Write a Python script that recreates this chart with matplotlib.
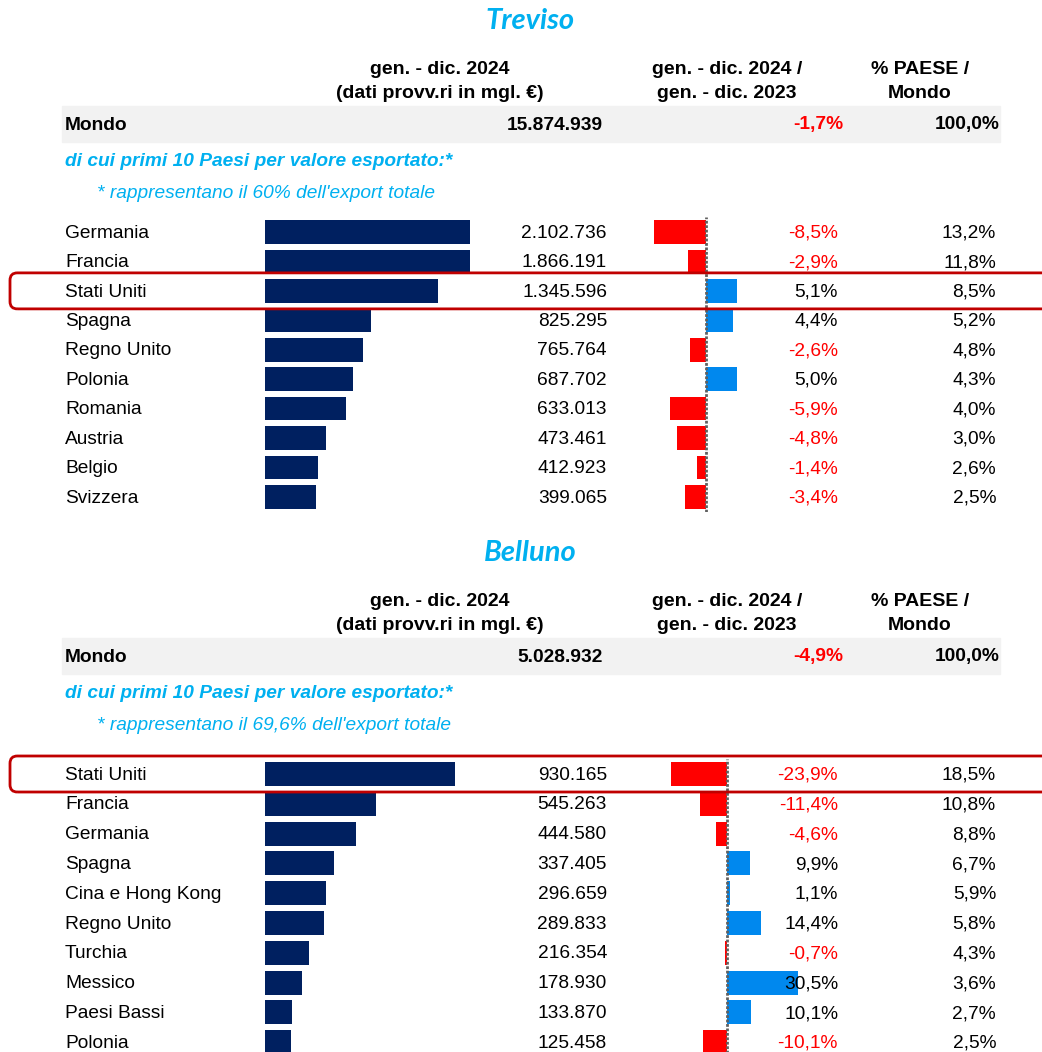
import matplotlib
matplotlib.use("Agg")
import matplotlib.pyplot as plt
from matplotlib.patches import FancyBboxPatch, Rectangle

# data
tv_countries = ["Germania", "Francia", "Stati Uniti", "Spagna", "Regno Unito",
                "Polonia", "Romania", "Austria", "Belgio", "Svizzera"]
tv_values = [2102736, 1866191, 1345596, 825295, 765764, 687702, 633013, 473461, 412923, 399065]
tv_change = [-8.5, -2.9, 5.1, 4.4, -2.6, 5.0, -5.9, -4.8, -1.4, -3.4]
tv_share = [13.2, 11.8, 8.5, 5.2, 4.8, 4.3, 4.0, 3.0, 2.6, 2.5]
tv_world = 15874939
tv_world_change = -1.7

bl_countries = ["Stati Uniti", "Francia", "Germania", "Spagna", "Cina e Hong Kong",
                "Regno Unito", "Turchia", "Messico", "Paesi Bassi", "Polonia"]
bl_values = [930165, 545263, 444580, 337405, 296659, 289833, 216354, 178930, 133870, 125458]
bl_change = [-23.9, -11.4, -4.6, 9.9, 1.1, 14.4, -0.7, 30.5, 10.1, -10.1]
bl_share = [18.5, 10.8, 8.8, 6.7, 5.9, 5.8, 4.3, 3.6, 2.7, 2.5]
bl_world = 5028932
bl_world_change = -4.9

W, H = 1042, 1052
NAVY = "#002060"
RED = "#FF0000"
BLUE = "#0088EE"
CYAN = "#00B0F0"
BOXRED = "#C00000"
FONT = "Liberation Sans"
FS = 13.8

fig = plt.figure(figsize=(W / 100, H / 100), dpi=100)


def fmt_int(v):
    return f"{v:,}".replace(",", ".")


def fmt_pct(v):
    return f"{v:.1f}%".replace(".", ",")


def px_axes(x0, y0, x1, y1):
    return fig.add_axes([x0 / W, 1 - y1 / H, (x1 - x0) / W, (y1 - y0) / H])


def panel(title, top, row0, step, countries, values, change, share, world, world_change,
          vmax, chg_zero, chg_scale, chg_lim, pct_note, box_row):
    # title and header
    fig.text(530 / W, 1 - (top + 21) / H, title, ha="center", va="center",
             fontsize=21, fontweight="bold", style="italic", color=CYAN, family="Lato")
    hdr = dict(ha="center", va="center", fontsize=14, fontweight="bold", family=FONT)
    fig.text(440 / W, 1 - (top + 70) / H, "gen. - dic. 2024", **hdr)
    fig.text(440 / W, 1 - (top + 94) / H, "(dati provv.ri in mgl. €)", **hdr)
    fig.text(727 / W, 1 - (top + 70) / H, "gen. - dic. 2024 /", **hdr)
    fig.text(727 / W, 1 - (top + 94) / H, "gen. - dic. 2023", **hdr)
    fig.text(920 / W, 1 - (top + 70) / H, "% PAESE /", **hdr)
    fig.text(920 / W, 1 - (top + 94) / H, "Mondo", **hdr)

    # Mondo row
    fig.patches.append(Rectangle((62 / W, 1 - (top + 142) / H), 938 / W, 36 / H,
                                 transform=fig.transFigure, color="#F2F2F2", zorder=0))
    ym = 1 - (top + 125) / H
    bold = dict(va="center", fontsize=FS, fontweight="bold", family=FONT)
    fig.text(65 / W, ym, "Mondo", ha="left", **bold)
    fig.text(603 / W, ym, fmt_int(world), ha="right", **bold)
    fig.text(843 / W, ym, fmt_pct(world_change), ha="right",
             color=RED if world_change < 0 else "black", **bold)
    fig.text(1000 / W, ym, "100,0%", ha="right", **bold)

    fig.text(65 / W, 1 - (top + 161) / H, "di cui primi 10 Paesi per valore esportato:*",
             ha="left", va="center", fontsize=FS, fontweight="bold", style="italic",
             color=CYAN, family=FONT)
    fig.text(97 / W, 1 - (top + 194) / H, pct_note, ha="left", va="center",
             fontsize=FS, style="italic", color=CYAN, family=FONT)

    y_top = row0 - 0.5 * step
    y_bot = row0 + 9.5 * step
    rows = list(range(len(countries)))

    # value bars
    ax_v = px_axes(265, y_top, 470, y_bot)
    ax_v.barh(rows, values, height=0.8, color=NAVY)
    ax_v.set_xlim(0, vmax)
    ax_v.set_ylim(9.5, -0.5)
    ax_v.axis("off")

    # change bars
    lo, hi = chg_lim
    ax_c = px_axes(chg_zero + lo * chg_scale, y_top, chg_zero + hi * chg_scale, y_bot)
    ax_c.barh(rows, change, height=0.8,
              color=[RED if c < 0 else BLUE for c in change])
    ax_c.axvline(0, color="#606060", lw=2, ls=(0, (1, 0.6)), zorder=3)
    ax_c.set_xlim(lo, hi)
    ax_c.set_ylim(9.5, -0.5)
    ax_c.axis("off")

    # table text
    ax_t = px_axes(0, y_top, W, y_bot)
    ax_t.set_xlim(0, W)
    ax_t.set_ylim(9.5, -0.5)
    ax_t.axis("off")
    ax_t.patch.set_alpha(0)
    txt = dict(va="center", fontsize=FS, family=FONT)
    for i in rows:
        yy = i + 0.04
        ax_t.text(65, yy, countries[i], ha="left", **txt)
        ax_t.text(607, yy, fmt_int(values[i]), ha="right", **txt)
        ax_t.text(838, yy, fmt_pct(change[i]), ha="right",
                  color=RED if change[i] < 0 else "black", **txt)
        ax_t.text(996, yy, fmt_pct(share[i]), ha="right", **txt)

    # highlight box
    yc = row0 + box_row * step
    fig.patches.append(FancyBboxPatch((10 / W, 1 - (yc + 18) / H), 1040 / W, 36 / H,
                                      boxstyle="round,pad=0,rounding_size=0.007",
                                      transform=fig.transFigure, fill=False,
                                      ec=BOXRED, lw=2, zorder=5))


panel("Treviso", 0, 232, 29.44, tv_countries, tv_values, tv_change, tv_share,
      tv_world, tv_world_change, 1597000, 706, 6.1, (-10, 10),
      "* rappresentano il 60% dell'export totale", 2)
panel("Belluno", 532, 774, 29.8, bl_countries, bl_values, bl_change, bl_share,
      bl_world, bl_world_change, 1003000, 727, 2.33, (-25, 35),
      "* rappresentano il 69,6% dell'export totale", 0)

fig.savefig("out.png", dpi=100)
